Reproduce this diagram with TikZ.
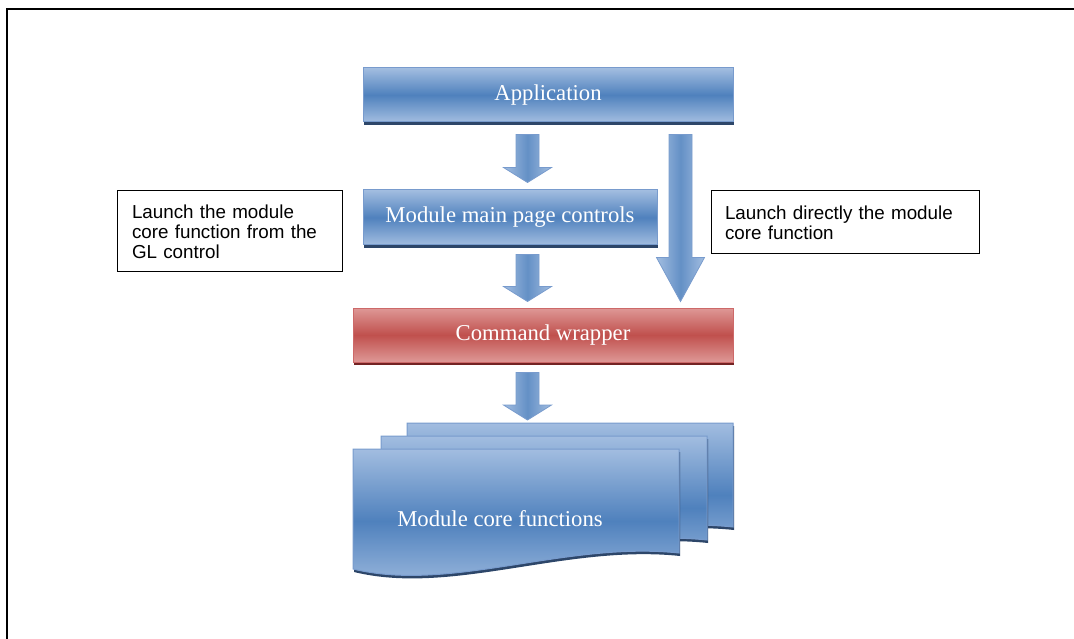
\documentclass[tikz,border=0pt]{standalone}
\usepackage{fontspec}
\newfontfamily\boxfont{Liberation Serif}
\newfontfamily\notefont{Liberation Sans}
\usetikzlibrary{calc,shadows}

\definecolor{blueL}{RGB}{162,189,224}
\definecolor{blueM}{RGB}{79,129,189}
\definecolor{blueE}{RGB}{120,155,205}
\definecolor{blueS}{RGB}{45,70,105}
\definecolor{redL}{RGB}{222,152,150}
\definecolor{redM}{RGB}{192,80,77}
\definecolor{redE}{RGB}{205,105,105}
\definecolor{redS}{RGB}{115,35,35}

\tikzset{%
  % Specifications for style of nodes:
         base/.style = {rectangle, draw, line width=1pt, inner sep=0pt,
                        text=white, font=\boxfont\fontsize{22.7pt}{27pt}\selectfont},
      bluebox/.style = {base, draw=blueE, top color=blueL, bottom color=blueL,
                        middle color=blueM,
                        drop shadow={shadow xshift=1pt, shadow yshift=-3pt,
                                     fill=blueS, opacity=1}},
       redbox/.style = {base, draw=redE, top color=redL, bottom color=redL,
                        middle color=redM,
                        drop shadow={shadow xshift=1pt, shadow yshift=-3pt,
                                     fill=redS, opacity=1}},
         note/.style = {rectangle, draw=black, line width=1pt, align=left,
                        inner xsep=15pt, inner ysep=0pt,
                        font=\notefont\fontsize{18.8pt}{20pt}\selectfont},
    sheettext/.style = {inner sep=0pt, text=white,
                        font=\boxfont\fontsize{22.7pt}{27pt}\selectfont},
        sheet/.style = {draw=blueE, line width=1pt, top color=blueL,
                        bottom color=blueL, middle color=blueM,
                        drop shadow={shadow xshift=1pt, shadow yshift=-3pt,
                                     fill=blueS, opacity=1}},
       barrow/.style = {draw=blueE, line width=0.8pt, left color=blueL,
                        right color=blueL, middle color=blueM!75!blueL},
}

% block arrow: [head length]{start}{tip}
\newcommand\blockarrow[3][15pt]{%
  \shade[barrow] let \p1=#2, \p2=#3 in
    (\x1-11.5pt,\y1) -- (\x1+11.5pt,\y1) -- (\x1+11.5pt,\y2+#1)
    -- (\x1+24pt,\y2+#1) -- (\x1,\y2) -- (\x1-24pt,\y2+#1)
    -- (\x1-11.5pt,\y2+#1) -- cycle;}

% one sheet of the stack: {left}{top}
\newcommand\docsheet[2]{%
  \shade[sheet] (#1,#2) -- ++(326,0) -- ++(0,104)
    .. controls +(-114,-12) and +(98,24) .. ++(-326,16) -- cycle;}

\begin{document}
\begin{tikzpicture}[x=1pt, y=-1pt, node distance=120pt]
  \useasboundingbox (0,0) rectangle (1074,639);
  \draw[line width=2pt] (6.5,639) -- (6.5,9.5) -- (1074,9.5);

  % Specification of nodes (position, etc.)
  \node (app)   [bluebox, minimum width=370pt, minimum height=54pt] at (548,95) {Application};
  \node (mmpc)  [bluebox, minimum width=294pt, minimum height=55pt,
                 below of=app, xshift=-38pt, yshift=-2.5pt] {Module main page controls};
  \node (cmd)   [redbox, minimum width=380pt, minimum height=54pt,
                 below of=mmpc, xshift=33pt, yshift=2.5pt] {Command wrapper};
  \node (glnote) [note, text width=195pt, minimum height=81pt,
                 left of=mmpc, xshift=-160.5pt, yshift=-14pt]
                 {Launch the module\\core function from the\\GL control};
  \node (dirnote) [note, text width=240pt, inner xsep=14pt, minimum height=63pt,
                 right of=mmpc, xshift=215pt, yshift=-5pt]
                 {Launch directly the module\\core function};

  % stack of module core functions
  \docsheet{407}{423}
  \docsheet{381}{436}
  \docsheet{353}{449}
  \node (core)  [sheettext, below of=cmd, xshift=-43pt, yshift=-64pt] {Module core functions};
  \coordinate (docs) at (570,423);

  % block arrows
  \coordinate (colA) at (527.5,0);
  \coordinate (colB) at (680.5,0);
  \blockarrow{($(app.south -| colA)+(0,12)$)}{($(mmpc.north -| colA)+(0,-7)$)}
  \blockarrow{($(mmpc.south -| colA)+(0,9)$)}{($(cmd.north -| colA)+(0,-6)$)}
  \blockarrow{($(cmd.south -| colA)+(0,10)$)}{($(docs -| colA)+(0,-3)$)}
  \blockarrow[44pt]{($(app.south -| colB)+(0,12)$)}{($(cmd.north -| colB)+(0,-6)$)}

\end{tikzpicture}
\end{document}
